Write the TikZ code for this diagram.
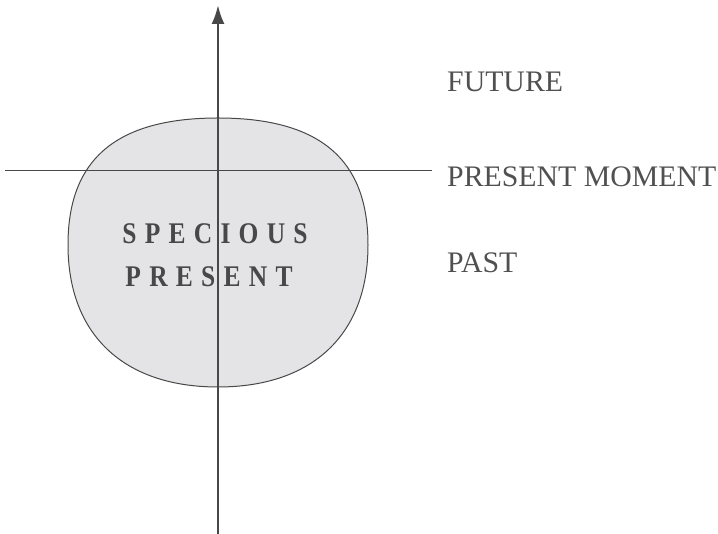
\documentclass[tikz,border=0pt]{standalone}
\usepackage{fontspec}
\usepackage{graphicx}
\setmainfont{Liberation Serif}
\usetikzlibrary{arrows.meta}
\definecolor{ink}{HTML}{484848}
\definecolor{txt}{HTML}{505050}
\definecolor{blobfill}{HTML}{E4E4E6}
\newcommand{\lsp}{\kern 9.7pt}
\begin{document}
\begin{tikzpicture}[x=1pt,y=1pt,
  label/.style={anchor=base west, inner sep=0pt, text=txt, font=\fontsize{29.8}{31}\selectfont},
  blobtext/.style={anchor=base, inner sep=0pt, text=ink, font=\bfseries\fontsize{30}{32}\selectfont},
  axis/.style={draw=ink, line width=2.4pt, -{Latex[length=19pt,width=13pt]}},
  thinline/.style={draw=ink, line width=1pt}]
\useasboundingbox (0,0) rectangle (718,534);
% blob
\path[fill=blobfill, draw=ink, line width=1pt]
  (218,416) .. controls (330.5,416) and (368,365.2) .. (368,289)
  .. controls (368,199.5) and (312.5,147) .. (218,147)
  .. controls (123.5,147) and (68,199.5) .. (68,289)
  .. controls (68,365.2) and (105.5,416) .. (218,416) -- cycle;
% present moment line
\coordinate (hl) at (5,363);
\coordinate (hr) at (432,363);
\draw[thinline] (hl) -- (hr);
% time axis
\coordinate (abot) at (218,0);
\coordinate (atop) at (218,529);
\draw[axis] (abot) -- (atop);
% blob text
\node[blobtext] (sp1) at (215,290) {\scalebox{0.85}[1]{S\lsp P\lsp E\lsp C\lsp I\lsp O\lsp U\lsp S}};
\node[blobtext] (sp2) at (209,247) {\scalebox{0.85}[1]{P\lsp R\lsp E\lsp S\lsp E\lsp N\lsp T}};
% labels
\node[label] (fut) at (447,442) {FUTURE};
\node[label] (pm) at (447,347) {PRESENT MOMENT};
\node[label] (past) at (447,261) {PAST};
\end{tikzpicture}
\end{document}
